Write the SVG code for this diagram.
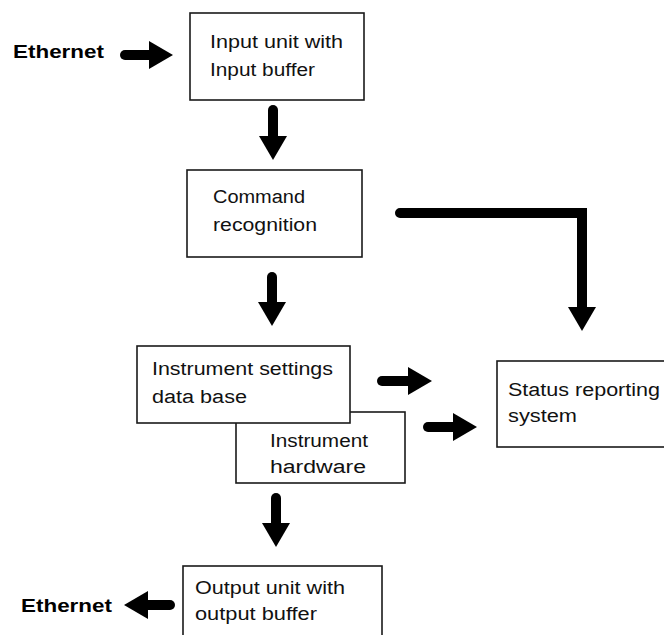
<svg xmlns="http://www.w3.org/2000/svg" width="664" height="635" viewBox="0 0 664 635">
<defs>
<style>
.box{fill:#fff;stroke:#1a1a1a;stroke-width:1.6}
.t{font-family:"Liberation Sans",Arial,sans-serif;font-size:18px;fill:#111}
.eth{font-family:"Liberation Sans",Arial,sans-serif;font-size:18px;font-weight:bold;fill:#000}
.arr{fill:none;stroke:#000;stroke-width:10;stroke-linecap:round;stroke-linejoin:miter;marker-end:url(#head)}
</style>
<marker id="head" markerUnits="userSpaceOnUse" viewBox="0 0 24 28" markerWidth="24" markerHeight="28" refX="2" refY="14" orient="auto">
<path d="M0,0 L24,14 L0,28 Z" fill="#000"/>
</marker>
</defs>
<rect width="664" height="635" fill="#fff"/>

<g id="ethernet-in">
<text class="eth" x="13" y="58" textLength="91" lengthAdjust="spacingAndGlyphs">Ethernet</text>
</g>

<g id="input-unit">
<rect class="box" x="190" y="13" width="174" height="87"/>
<text class="t" x="210" y="48" textLength="133" lengthAdjust="spacingAndGlyphs">Input unit with</text>
<text class="t" x="210" y="76" textLength="105" lengthAdjust="spacingAndGlyphs">Input buffer</text>
</g>

<g id="command-recognition">
<rect class="box" x="187" y="170" width="175" height="87"/>
<text class="t" x="213" y="203" textLength="92" lengthAdjust="spacingAndGlyphs">Command</text>
<text class="t" x="213" y="231" textLength="104" lengthAdjust="spacingAndGlyphs">recognition</text>
</g>

<g id="instrument-hardware">
<rect class="box" x="236" y="412" width="169" height="71"/>
<text class="t" x="270" y="447" textLength="98" lengthAdjust="spacingAndGlyphs">Instrument</text>
<text class="t" x="270" y="473" textLength="96" lengthAdjust="spacingAndGlyphs">hardware</text>
</g>

<g id="instrument-settings">
<rect class="box" x="137" y="346" width="213" height="77"/>
<text class="t" x="152" y="375" textLength="181" lengthAdjust="spacingAndGlyphs">Instrument settings</text>
<text class="t" x="152" y="403" textLength="95" lengthAdjust="spacingAndGlyphs">data base</text>
</g>

<g id="status-reporting">
<rect class="box" x="497" y="361" width="180" height="86"/>
<text class="t" x="508" y="396" textLength="152" lengthAdjust="spacingAndGlyphs">Status reporting</text>
<text class="t" x="508" y="422" textLength="69" lengthAdjust="spacingAndGlyphs">system</text>
</g>

<g id="output-unit">
<rect class="box" x="183" y="566" width="199" height="80"/>
<text class="t" x="195" y="594" textLength="150" lengthAdjust="spacingAndGlyphs">Output unit with</text>
<text class="t" x="195" y="620" textLength="122" lengthAdjust="spacingAndGlyphs">output buffer</text>
</g>

<g id="ethernet-out">
<text class="eth" x="21" y="612" textLength="91" lengthAdjust="spacingAndGlyphs">Ethernet</text>
</g>

<g id="connectors">
<path class="arr" d="M125,55 H151"/>
<path class="arr" d="M273,110 V138"/>
<path class="arr" d="M272,277 V304"/>
<path class="arr" d="M400,213 H582 V309"/>
<path class="arr" d="M382,381 H410"/>
<path class="arr" d="M428,427 H455"/>
<path class="arr" d="M276,498 V525"/>
<path class="arr" d="M170,605 H146"/>
</g>
</svg>
